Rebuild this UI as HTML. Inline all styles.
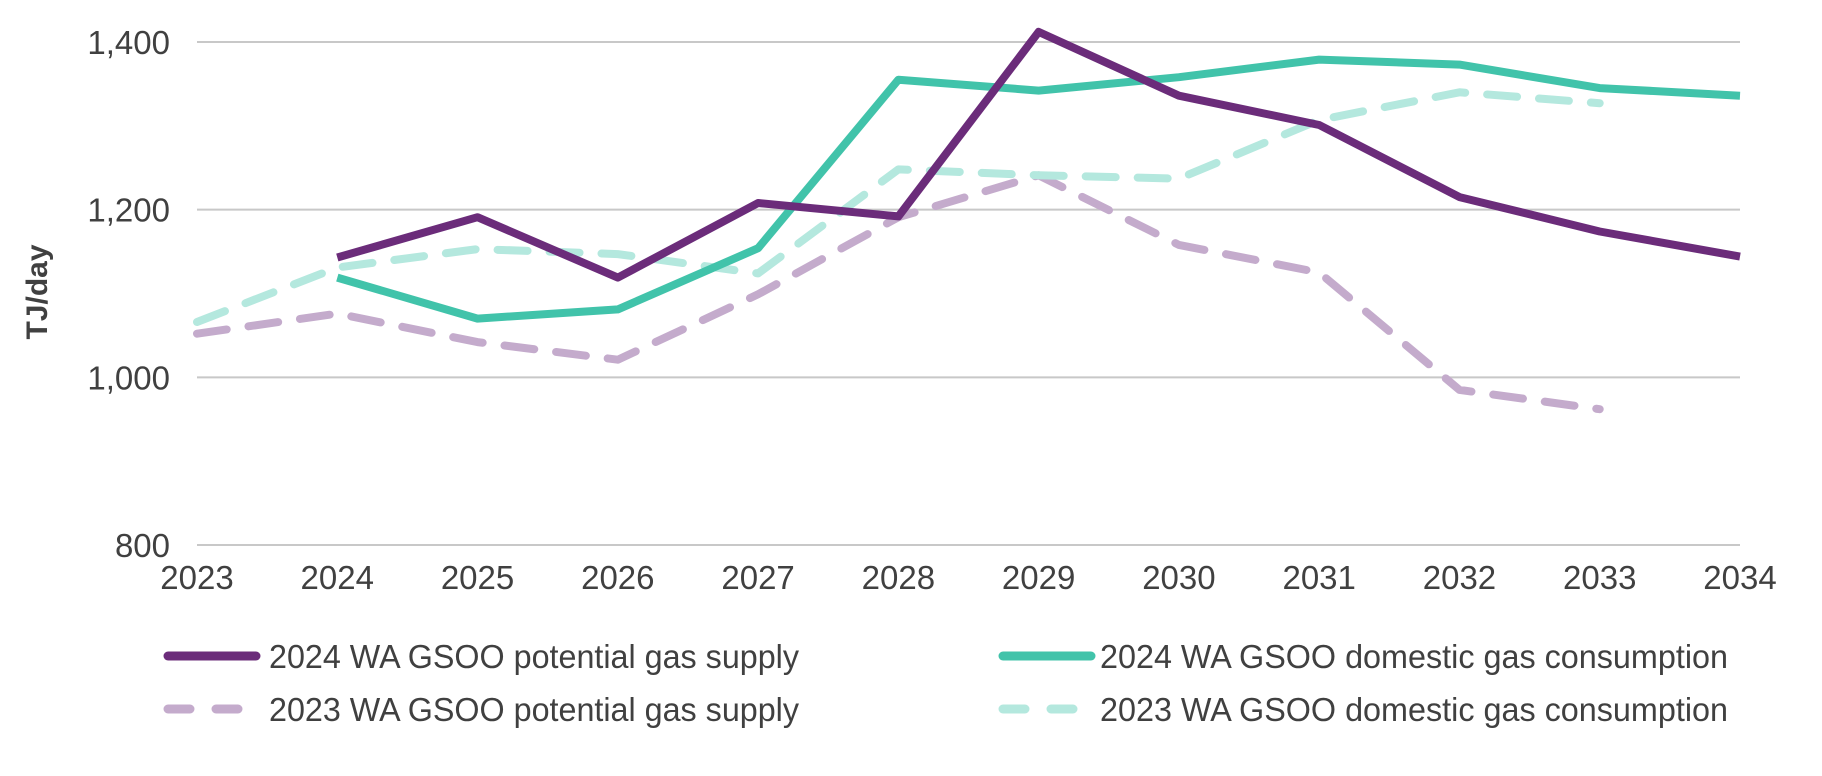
<!DOCTYPE html>
<html><head><meta charset="utf-8"><style>
html,body{margin:0;padding:0;background:#fff;}
svg{display:block;font-family:"Liberation Sans",Arial,sans-serif;}
</style></head><body>
<svg id="chart" width="1822" height="776" viewBox="0 0 1822 776" xmlns="http://www.w3.org/2000/svg">
<g id="grid"></g>
<g id="yt"></g>
<g id="xt"></g>
<text x="0" y="0" transform="translate(47,292) rotate(-90)" text-anchor="middle" font-size="30" font-weight="bold" fill="#404040">TJ/day</text>
<g id="series"></g>
<g id="legend"></g>
</svg>
<script>
const years = [2023,2024,2025,2026,2027,2028,2029,2030,2031,2032,2033,2034];
const yTicks = [800,1000,1200,1400];
const supply2024 = [null,1143,1191,1119,1208,1192,1412,1336,1301,1215,1174,1144];
const consumption2024 = [null,1119,1070,1081,1154,1355,1342,1358,1379,1373,1345,1336];
const supply2023 = [1052,1076,1042,1021,1099,1191,1241,1158,1125,985,962,null];
const consumption2023 = [1066,1131,1153,1147,1124,1248,1241,1237,1307,1340,1327,null];
const seriesNames = ["2024 WA GSOO potential gas supply","2024 WA GSOO domestic gas consumption","2023 WA GSOO potential gas supply","2023 WA GSOO domestic gas consumption"];

const NS="http://www.w3.org/2000/svg";
const X0=197, X1=1740, Y0=545, Y1=42, VMIN=800, VMAX=1400;
function xs(i){return X0+i*(X1-X0)/(years.length-1);}
function ys(v){return Y0-(v-VMIN)/(VMAX-VMIN)*(Y0-Y1);}
function mk(tag,parent,attrs){const e=document.createElementNS(NS,tag);for(const k in attrs)e.setAttribute(k,attrs[k]);parent.appendChild(e);return e;}

const grid=document.getElementById('grid'), yt=document.getElementById('yt'), xt=document.getElementById('xt');
yTicks.forEach(v=>{
  const l=mk('line',grid,{x1:X0,x2:X1,y1:ys(v),y2:ys(v),stroke:'#c8c8c8','stroke-width':2});
  
  
  const t=mk('text',yt,{x:170,y:ys(v)+12,'text-anchor':'end','font-size':33,fill:'#404040'});
  t.textContent=v.toLocaleString('en-US');
  
  
});
years.forEach((yr,i)=>{
  const t=mk('text',xt,{x:xs(i),y:589,'text-anchor':'middle','font-size':33,fill:'#404040'});
  t.textContent=yr;
  
  
});

const styles=[
  {data:supply2024,color:'#6b2c7a',dash:null,name:'supply-2024-line'},
  {data:consumption2024,color:'#41c3aa',dash:null,name:'consumption-2024-line'},
  {data:supply2023,color:'#c4abcc',dash:'30 22',name:'supply-2023-line'},
  {data:consumption2023,color:'#b4e8de',dash:'30 22',name:'consumption-2023-line'}
];
const sg=document.getElementById('series');
[2,3,1,0].forEach(k=>{
  const s=styles[k];
  let d='';
  s.data.forEach((v,i)=>{if(v==null)return;d+=(d?'L':'M')+xs(i).toFixed(1)+','+ys(v).toFixed(1);});
  const a={d:d,fill:'none',stroke:s.color,'stroke-width':8,'stroke-linejoin':'round','stroke-linecap':s.dash?'round':'butt'};
  if(s.dash)a['stroke-dasharray']=s.dash;
  const p=mk('path',sg,a);
  
  
});

const lg=document.getElementById('legend');
const pos=[{x:164,y:656,tx:269,tw:530},{x:999,y:656,tx:1100,tw:628},{x:164,y:709,tx:269,tw:530},{x:999,y:709,tx:1100,tw:628}];
styles.forEach((s,k)=>{
  const p=pos[k];
  const a={x1:p.x+4,x2:p.x+92,y1:p.y,y2:p.y,stroke:s.color,'stroke-width':9,'stroke-linecap':'round'};
  if(s.dash)a['stroke-dasharray']='22 26';
  const l=mk('line',lg,a);
  
  
  const t=mk('text',lg,{x:p.tx,y:p.y+12,'font-size':33,fill:'#404040',textLength:p.tw,lengthAdjust:'spacingAndGlyphs'});
  t.textContent=seriesNames[k];
  
  
});
</script>
</body></html>
